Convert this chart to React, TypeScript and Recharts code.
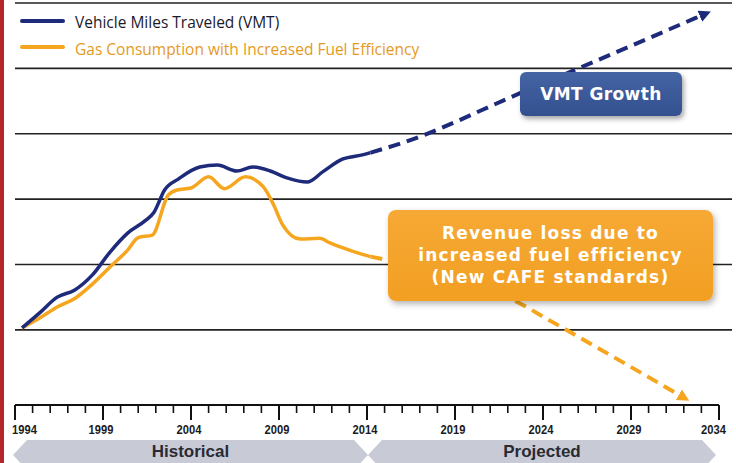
import React from "react";
import { LineChart, Line, XAxis, YAxis, ReferenceLine } from "recharts";

// historical VMT (index, no units shown)
const vmtYears = [1994.4, 1995.4, 1996.4, 1997.4, 1998.4, 1999.4, 2000.4, 2001.4, 2001.9, 2002.5, 2003.3, 2004.5, 2005.5, 2006.6, 2007.5, 2008.5, 2009.5, 2010.6, 2011.5, 2012.6, 2013.8, 2014.2];
const vmtValues = [0.3, 2.6, 5.0, 6.1, 8.4, 11.9, 14.8, 16.7, 18.0, 21.4, 23.1, 24.9, 25.2, 24.3, 24.9, 24.3, 23.2, 22.6, 24.2, 26.1, 26.8, 27.1];

// historical gas consumption
const gasYears = [1994.4, 1995.4, 1996.4, 1997.4, 1998.4, 1999.4, 2000.4, 2001.0, 2001.8, 2002.7, 2003.2, 2004.0, 2005.0, 2005.9, 2007.1, 2008.1, 2008.7, 2009.2, 2010.2, 2011.3, 2011.9, 2013.0, 2013.8, 2014.2];
const gasValues = [0.3, 1.8, 3.5, 4.8, 7.0, 9.6, 12.2, 14.1, 14.5, 20.6, 21.4, 21.7, 23.4, 21.6, 23.4, 21.9, 19.1, 16.1, 13.9, 14.0, 13.3, 12.2, 11.5, 11.2];

// projections
const vmtProjYears = [2014.2, 2016.0, 2022.7, 2033.1];
const vmtProjValues = [27.1, 28.6, 36.2, 48.2];
const gasProjYears = [2014.2, 2022.3, 2024.6, 2031.9];
const gasProjValues = [11.2, 4.6, 1.1, -10.2];

const labelYears = [1994, 1999, 2004, 2009, 2014, 2019, 2024, 2029, 2034];
const tickYears = Array.from({ length: 41 }, (_, i) => 1994 + i);
const gridValues = [0, 10, 20, 30, 40, 50];

const zip = (xs: number[], vs: number[]) => xs.map((x, i) => ({ x, v: vs[i] }));
const vmtData = zip(vmtYears, vmtValues);
const gasData = zip(gasYears, gasValues);
const vmtProj = zip(vmtProjYears, vmtProjValues);
const gasProj = zip(gasProjYears, gasProjValues);

const BLUE = "#1e2a7a";
const ORANGE = "#f6a61e";

const YearTick = (props: any) => {
  const { x, y, payload } = props;
  const yr = payload.value;
  const major = labelYears.includes(yr);
  let anchor = "middle";
  let tx = x - 2;
  if (yr === labelYears[0]) {
    anchor = "start";
    tx = x - 3;
  } else if (yr === labelYears[labelYears.length - 1]) {
    anchor = "end";
    tx = x + 7;
  }
  return (
    <g>
      <line x1={x} x2={x} y1={y} y2={y + (major ? 15 : 8)} stroke="#111" strokeWidth={major ? 2 : 1.6} />
      {major && (
        <text
          x={0}
          y={0}
          transform={`translate(${tx},${y + 29}) scale(0.86,1)`}
          textAnchor={anchor}
          fontFamily="'Liberation Sans', Arial, sans-serif"
          fontWeight="bold"
          fontSize={13}
          fill="#1a1a1a"
        >
          {yr}
        </text>
      )}
    </g>
  );
};

const banner = (left: number, width: number, text: string) => (
  <div
    style={{
      position: "absolute",
      left,
      top: 440,
      width,
      height: 30,
      background: "#c8cad5",
      clipPath: `polygon(0 15px, 14px 0, ${width - 14}px 0, ${width}px 15px, ${width - 14}px 30px, 14px 30px)`,
      textAlign: "center",
      lineHeight: "23px",
      fontFamily: "'Liberation Sans', Arial, sans-serif",
      fontWeight: "bold",
      fontSize: 17,
      color: "#2a2a33",
    }}
  >
    {text}
  </div>
);

export default function App() {
  return (
    <div
      style={{
        position: "absolute",
        left: 0,
        top: 0,
        width: 736,
        height: 463,
        overflow: "hidden",
        background: "#fff",
      }}
    >
      <LineChart width={736} height={463} margin={{ top: 3, right: 4, left: 15, bottom: 0 }}>
        <defs>
          <marker id="arrowBlue" viewBox="0 0 10 10" refX="3" refY="5" markerWidth="12" markerHeight="12" markerUnits="userSpaceOnUse" orient="auto">
            <path d="M0,0 L10,5 L0,10 z" fill={BLUE} />
          </marker>
          <marker id="arrowOrange" viewBox="0 0 10 10" refX="3" refY="5" markerWidth="12" markerHeight="12" markerUnits="userSpaceOnUse" orient="auto">
            <path d="M0,0 L10,5 L0,10 z" fill={ORANGE} />
          </marker>
        </defs>
        <XAxis
          dataKey="x"
          type="number"
          domain={[1994, 2034.74]}
          ticks={tickYears}
          interval={0}
          axisLine={false}
          tickLine={false}
          tickSize={0}
          tickMargin={0}
          height={58}
          tick={<YearTick />}
        />
        <YAxis hide type="number" domain={[-11.5, 50]} />
        {gridValues.map((g) => (
          <ReferenceLine key={g} y={g} stroke="#222" strokeWidth={1.6} />
        ))}
        <ReferenceLine
          segment={[
            { x: 1994, y: -11.5 },
            { x: 2034, y: -11.5 },
          ]}
          stroke="#111"
          strokeWidth={2}
        />
        <Line data={vmtProj} dataKey="v" type="monotone" stroke={BLUE} strokeWidth={4} strokeDasharray="12 7" dot={false} isAnimationActive={false} markerEnd="url(#arrowBlue)" />
        <Line data={gasProj} dataKey="v" type="monotone" stroke={ORANGE} strokeWidth={4} strokeDasharray="12 7" dot={false} isAnimationActive={false} markerEnd="url(#arrowOrange)" />
        <Line data={gasData} dataKey="v" type="monotone" stroke={ORANGE} strokeWidth={3.5} dot={false} isAnimationActive={false} />
        <Line data={vmtData} dataKey="v" type="monotone" stroke={BLUE} strokeWidth={3.5} dot={false} isAnimationActive={false} />
      </LineChart>

      {/* red edge */}
      <div style={{ position: "absolute", left: 0, top: 0, width: 4, height: 463, background: "#b3262a" }} />

      {/* legend */}
      <div style={{ position: "absolute", left: 20, top: 19, width: 45, height: 4, borderRadius: 2, background: BLUE }} />
      <div
        style={{
          position: "absolute",
          left: 75,
          top: 12,
          fontFamily: "'Open Sans', sans-serif",
          fontSize: 15.5,
          lineHeight: "20px",
          color: "#1a1a2a",
          whiteSpace: "nowrap",
        }}
      >
        Vehicle Miles Traveled (VMT)
      </div>
      <div style={{ position: "absolute", left: 20, top: 45, width: 45, height: 4, borderRadius: 2, background: ORANGE }} />
      <div
        style={{
          position: "absolute",
          left: 75,
          top: 39,
          fontFamily: "'Open Sans', sans-serif",
          fontSize: 15.5,
          lineHeight: "20px",
          color: "#e59a1c",
          whiteSpace: "nowrap",
        }}
      >
        Gas Consumption with Increased Fuel Efficiency
      </div>

      {/* annotations */}
      <div
        style={{
          position: "absolute",
          left: 520,
          top: 72,
          width: 162,
          height: 44,
          borderRadius: 6,
          background: "linear-gradient(#4564a3, #33508f)",
          boxShadow: "2px 3px 5px rgba(0,0,0,0.35)",
          color: "#fff",
          fontFamily: "'DejaVu Sans', sans-serif",
          fontWeight: "bold",
          fontSize: 17,
          letterSpacing: 0.4,
          textAlign: "center",
          lineHeight: "44px",
        }}
      >
        VMT Growth
      </div>
      <div
        style={{
          position: "absolute",
          left: 388,
          top: 210,
          width: 325,
          height: 91,
          borderRadius: 8,
          background: "linear-gradient(#f6a935, #f29f22)",
          boxShadow: "2px 3px 6px rgba(0,0,0,0.3)",
          color: "#fff",
          fontFamily: "'DejaVu Sans', sans-serif",
          fontWeight: "bold",
          fontSize: 17,
          letterSpacing: 1.2,
          textAlign: "center",
          lineHeight: "22px",
          paddingTop: 12,
          boxSizing: "border-box",
        }}
      >
        Revenue loss due to
        <br />
        increased fuel efficiency
        <br />
        (New CAFE standards)
      </div>

      {/* period banners */}
      {banner(13, 355, "Historical")}
      {banner(368, 348, "Projected")}
    </div>
  );
}
